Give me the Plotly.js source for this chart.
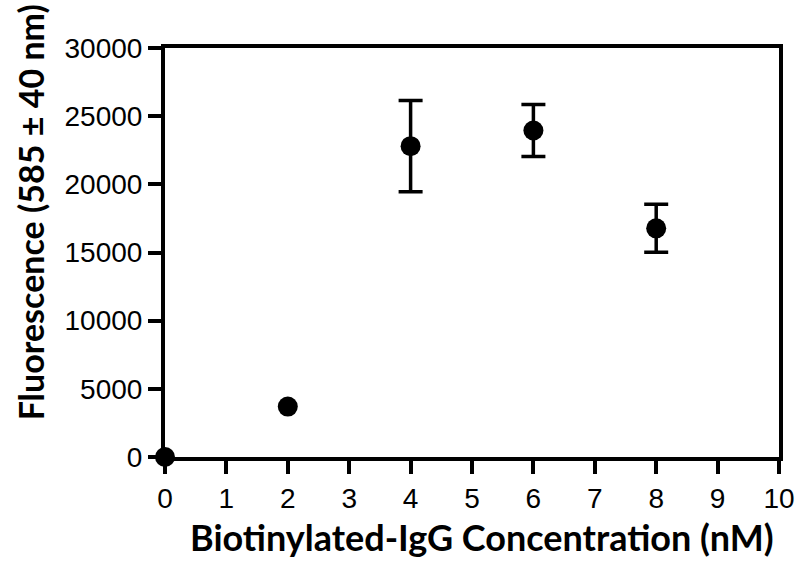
<!DOCTYPE html>
<html>
<head>
<meta charset="utf-8">
<script src="https://cdn.plot.ly/plotly-3.0.1.min.js"></script>
<style>html,body{margin:0;padding:0;background:#fff;}#chart{width:800px;height:562px;}</style>
</head>
<body>
<div id="chart"></div>
<script>
var concentration = [0, 2, 4, 6, 8];
var fluorescence = [0, 3700, 22800, 23950, 16770];
var errorSD = [0, 0, 3350, 1900, 1760];
var xTitle = 'Biotinylated-IgG Concentration (nM)';
var yTitle = 'Fluorescence (585 ± 40 nm)';

// points with a visible error bar get their own trace (zero-error points have no cap drawn)
var withErr = [], withoutErr = [];
for (var i = 0; i < concentration.length; i++) {
  (errorSD[i] > 0 ? withErr : withoutErr).push(i);
}
function pick(arr, idx) { return idx.map(function (k) { return arr[k]; }); }

var markerStyle = {color: '#000', size: 20, line: {width: 0}};

var traceNoErr = {
  x: pick(concentration, withoutErr),
  y: pick(fluorescence, withoutErr),
  type: 'scatter', mode: 'markers', cliponaxis: false,
  marker: markerStyle
};
var traceErr = {
  x: pick(concentration, withErr),
  y: pick(fluorescence, withErr),
  type: 'scatter', mode: 'markers', cliponaxis: false,
  marker: markerStyle,
  error_y: {type: 'data', array: pick(errorSD, withErr), visible: true, color: '#000', thickness: 3.5, width: 12}
};

var axisCommon = {
  showline: true, linecolor: '#000', linewidth: 4, mirror: true,
  ticks: 'outside', ticklen: 13, tickwidth: 4, tickcolor: '#000',
  showgrid: false, zeroline: false,
  tickfont: {family: 'Liberation Sans, Arial, sans-serif', size: 28, color: '#000'}
};

var titleFont = {family: 'Lato, Open Sans, sans-serif', color: '#000'};

var layout = {
  width: 800, height: 562,
  margin: {l: 165, r: 21, t: 48, b: 105},
  paper_bgcolor: '#fff', plot_bgcolor: '#fff',
  showlegend: false,
  xaxis: Object.assign({}, axisCommon, {range: [0, 10], dtick: 1, tick0: 0}),
  yaxis: Object.assign({}, axisCommon, {range: [0, 30000], dtick: 5000, tick0: 0, tickformat: 'd'}),
  annotations: [
    {text: '<b>' + xTitle + '</b>', xref: 'paper', yref: 'paper', x: 0.5155, y: -0.1956,
     xanchor: 'center', yanchor: 'middle', showarrow: false,
     font: Object.assign({size: 36}, titleFont)},
    {text: '<b>' + yTitle + '</b>', xref: 'paper', yref: 'paper', x: -0.219, y: 0.597,
     xanchor: 'center', yanchor: 'middle', showarrow: false, textangle: -90,
     font: Object.assign({size: 34}, titleFont)}
  ]
};

Plotly.newPlot('chart', [traceNoErr, traceErr], layout, {displayModeBar: false, staticPlot: true});
</script>
</body>
</html>
